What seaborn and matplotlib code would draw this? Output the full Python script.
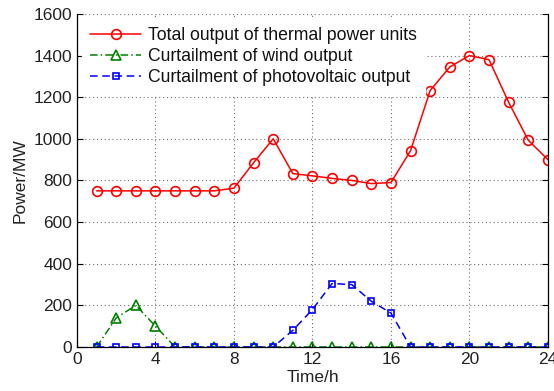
import numpy as np
import pandas as pd
import matplotlib
matplotlib.use("Agg")
import matplotlib.pyplot as plt
import seaborn as sns

hours = list(range(1, 25))
thermal = [750, 750, 750, 750, 750, 750, 750, 763, 885, 1000, 833, 822,
           810, 800, 785, 790, 943, 1232, 1345, 1400, 1380, 1175, 993, 900]
wind = [0, 140, 200, 100, 0, 0, 0, 0, 0, 0, 0, 0,
        0, 0, 0, 0, 0, 0, 0, 0, 0, 0, 0, 0]
pv = [0, 0, 0, 0, 0, 0, 0, 0, 0, 0, 80, 180,
      305, 300, 220, 163, 0, 0, 0, 0, 0, 0, 0, 0]
labels = ["Total output of thermal power units",
          "Curtailment of wind output",
          "Curtailment of photovoltaic output"]

sns.set_style("white")
plt.rcParams['font.family'] = ['Liberation Sans', 'DejaVu Sans']

fig = plt.figure(figsize=(5.54, 3.91), dpi=100)
ax = fig.add_axes([0.139, 0.1125, 0.850, 0.852])

styles = [
    dict(color="#ff0000", linestyle="-", marker="o", markersize=7),
    dict(color="#008000", linestyle=(0, (5, 2, 1, 2)), marker="^", markersize=7),
    dict(color="#0000ff", linestyle=(0, (5, 3)), marker="s", markersize=5),
]
for data, lab, st in zip([thermal, wind, pv], labels, styles):
    df = pd.DataFrame({"h": hours, "p": data})
    sns.lineplot(data=df, x="h", y="p", ax=ax, label=lab, color=st["color"],
                 linestyle=st["linestyle"], marker=st["marker"], markersize=st["markersize"],
                 markerfacecolor="none", markeredgecolor=st["color"], markeredgewidth=1.2,
                 linewidth=1.1)

ax.set_xlim(0, 24)
ax.set_ylim(0, 1600)
ax.set_xticks(range(0, 25, 4))
ax.set_yticks(range(0, 1601, 200))
ax.grid(True, linestyle=(0, (1, 2.5)), color="#707070", linewidth=0.8)
for s in ax.spines.values():
    s.set_color("black")
    s.set_linewidth(0.9)
ax.spines["top"].set_visible(False)
ax.tick_params(axis="both", labelsize=12.5, direction="in", length=4, colors="black",
               right=True, left=True, bottom=True)
ax.tick_params(axis="both", labelcolor="#222222")
ax.set_xlabel("Time/h", fontsize=12.5, color="#222222", labelpad=2)
ax.set_ylabel("Power/MW", fontsize=12.5, color="#222222", labelpad=4)
leg = ax.legend(loc="upper left", fontsize=12.7, frameon=True, fancybox=False,
                borderpad=0.45, labelspacing=0.22, handlelength=2.9, handletextpad=0.4,
                borderaxespad=0.3)
leg.get_frame().set_edgecolor("white")
leg.get_frame().set_alpha(1.0)
for t in leg.get_texts():
    t.set_color("#111111")

fig.savefig("out.png", dpi=100)
